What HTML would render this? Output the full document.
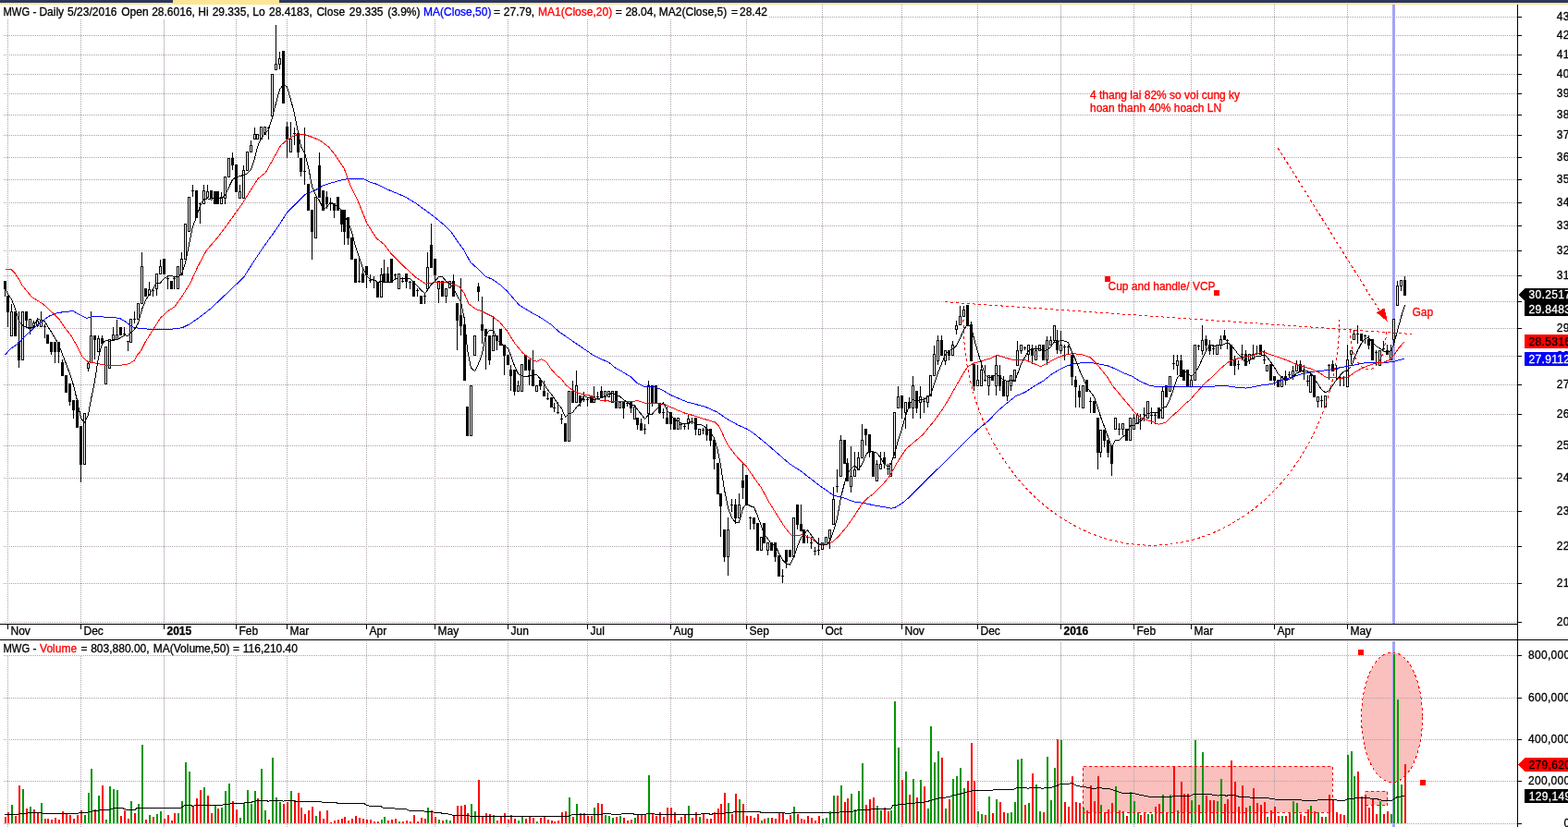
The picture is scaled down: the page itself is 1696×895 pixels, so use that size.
<!DOCTYPE html>
<html><head><meta charset="utf-8"><title>MWG - Daily</title>
<style>html,body{margin:0;padding:0;background:#fff;overflow:hidden;width:1696px;height:895px}svg{display:block}text{white-space:pre}</style>
</head><body>
<svg width="1696" height="895" viewBox="0 0 1696 895" shape-rendering="crispEdges"><rect x="0" y="0" width="1696" height="895" fill="#fff"/>
<rect x="0" y="0" width="1696" height="3" fill="#2d375e"/>
<rect x="187" y="0" width="115" height="3" fill="#fee596"/>
<rect x="0" y="3" width="1696" height="2" fill="#fee596"/>
<rect x="1171" y="829" width="270" height="50" fill="#f9c0bd"/>
<rect x="1476" y="856" width="25" height="15" fill="#f9c0bd"/>
<ellipse cx="1505.6" cy="776.3" rx="33" ry="70.3" fill="#f9c0bd"/>
<path d="M4 673.5H1641M4 631.5H1641M4 591.5H1641M4 553.5H1641M4 517.5H1641M4 482.5H1641M4 448.5H1641M4 416.5H1641M4 385.5H1641M4 355.5H1641M4 326.5H1641M4 298.5H1641M4 271.5H1641M4 244.5H1641M4 219.5H1641M4 194.5H1641M4 170.5H1641M4 146.5H1641M4 124.5H1641M4 101.5H1641M4 80.5H1641M4 59.5H1641M4 38.5H1641M4 18.5H1641M4 709.5H1641M4 755.5H1641M4 800.5H1641M4 845.5H1641M4 891.5H1641M8.5 5V674M8.5 694V895M87.5 5V674M87.5 694V895M255.5 5V674M255.5 694V895M310.5 5V674M310.5 694V895M396.5 5V674M396.5 694V895M470.5 5V674M470.5 694V895M549.5 5V674M549.5 694V895M635.5 5V674M635.5 694V895M725.5 5V674M725.5 694V895M807.5 5V674M807.5 694V895M889.5 5V674M889.5 694V895M975.5 5V674M975.5 694V895M1057.5 5V674M1057.5 694V895M1226.5 5V674M1226.5 694V895M1288.5 5V674M1288.5 694V895M1378.5 5V674M1378.5 694V895M1457.5 5V674M1457.5 694V895" stroke="#ada0ad" stroke-width="1" stroke-dasharray="1 1" fill="none"/>
<path d="M177.5 5V674M177.5 694V895M1147.5 5V674M1147.5 694V895" stroke="#cbc2cc" stroke-width="1" fill="none"/>
<rect x="1506" y="5" width="3" height="670" fill="#a3a3f5"/>
<rect x="1506" y="694" width="3" height="201" fill="#a3a3f5"/>
<rect x="0" y="5" width="831" height="16" fill="#fff"/>
<rect x="0" y="693" width="326" height="16" fill="#fff"/>
<path d="M5 304h1V321h-1zM8 320h1V354h-1zM12 329h1V364h-1zM16 337h1V364h-1zM20 337h1V398h-1zM24 337h1V390h-1zM28 337h1V354h-1zM32 345h1V362h-1zM36 347h1V356h-1zM40 346h1V354h-1zM44 337h1V354h-1zM48 351h1V366h-1zM51 362h1V372h-1zM55 370h1V384h-1zM59 370h1V393h-1zM63 370h1V393h-1zM67 389h1V407h-1zM71 406h1V425h-1zM75 415h1V439h-1zM79 433h1V453h-1zM83 433h1V463h-1zM87 461h1V522h-1zM91 447h1V503h-1zM95 392h1V402h-1zM98 337h1V393h-1zM102 363h1V389h-1zM106 363h1V381h-1zM110 363h1V372h-1zM114 375h1V416h-1zM118 367h1V399h-1zM122 354h1V368h-1zM126 346h1V368h-1zM130 354h1V363h-1zM134 354h1V364h-1zM138 369h1V380h-1zM141 345h1V371h-1zM145 337h1V350h-1zM149 328h1V346h-1zM153 273h1V329h-1zM157 312h1V321h-1zM161 305h1V320h-1zM165 313h1V321h-1zM169 296h1V320h-1zM173 281h1V297h-1zM177 280h1V297h-1zM181 298h1V313h-1zM185 304h1V313h-1zM188 299h1V313h-1zM192 288h1V313h-1zM196 273h1V298h-1zM200 242h1V281h-1zM204 213h1V251h-1zM208 200h1V213h-1zM212 206h1V236h-1zM216 219h1V242h-1zM220 200h1V221h-1zM224 200h1V214h-1zM228 206h1V215h-1zM232 207h1V221h-1zM235 207h1V221h-1zM239 208h1V221h-1zM243 191h1V221h-1zM247 171h1V192h-1zM251 165h1V184h-1zM255 178h1V208h-1zM259 200h1V215h-1zM263 179h1V215h-1zM267 164h1V185h-1zM271 152h1V165h-1zM275 138h1V151h-1zM278 145h1V151h-1zM282 137h1V151h-1zM286 137h1V146h-1zM290 137h1V151h-1zM294 80h1V126h-1zM298 27h1V76h-1zM302 56h1V75h-1zM306 55h1V112h-1zM310 132h1V171h-1zM314 132h1V165h-1zM318 138h1V157h-1zM322 144h1V171h-1zM325 171h1V191h-1zM329 138h1V200h-1zM333 199h1V228h-1zM337 227h1V281h-1zM341 213h1V258h-1zM345 165h1V214h-1zM349 206h1V228h-1zM353 207h1V226h-1zM357 214h1V228h-1zM361 220h1V236h-1zM365 213h1V228h-1zM369 227h1V251h-1zM372 227h1V265h-1zM376 235h1V265h-1zM380 257h1V281h-1zM384 280h1V306h-1zM388 280h1V306h-1zM392 290h1V306h-1zM396 288h1V312h-1zM400 297h1V306h-1zM404 299h1V312h-1zM408 305h1V322h-1zM412 290h1V322h-1zM415 281h1V305h-1zM419 289h1V305h-1zM423 280h1V305h-1zM427 296h1V303h-1zM431 296h1V313h-1zM435 300h1V306h-1zM439 296h1V312h-1zM443 304h1V313h-1zM447 304h1V321h-1zM451 312h1V321h-1zM455 320h1V329h-1zM459 318h1V329h-1zM462 273h1V313h-1zM466 242h1V290h-1zM470 280h1V305h-1zM474 304h1V328h-1zM478 304h1V321h-1zM482 312h1V328h-1zM486 304h1V312h-1zM490 297h1V321h-1zM494 328h1V379h-1zM498 301h1V363h-1zM502 351h1V412h-1zM505 440h1V472h-1zM509 417h1V472h-1zM513 363h1V385h-1zM517 306h1V326h-1zM521 321h1V372h-1zM525 356h1V400h-1zM529 363h1V395h-1zM533 342h1V380h-1zM537 363h1V379h-1zM541 356h1V374h-1zM545 373h1V406h-1zM549 384h1V395h-1zM552 395h1V423h-1zM556 400h1V428h-1zM560 412h1V424h-1zM564 394h1V424h-1zM568 384h1V401h-1zM572 389h1V417h-1zM576 379h1V418h-1zM580 417h1V424h-1zM584 411h1V422h-1zM588 412h1V429h-1zM592 425h1V433h-1zM596 430h1V441h-1zM599 436h1V446h-1zM603 435h1V448h-1zM607 448h1V459h-1zM611 458h1V478h-1zM615 423h1V478h-1zM619 412h1V436h-1zM623 401h1V436h-1zM627 428h1V440h-1zM631 424h1V435h-1zM635 430h1V440h-1zM639 428h1V436h-1zM642 418h1V436h-1zM646 424h1V431h-1zM650 418h1V430h-1zM654 423h1V435h-1zM658 423h1V430h-1zM662 423h1V436h-1zM666 423h1V442h-1zM670 435h1V442h-1zM674 434h1V453h-1zM678 434h1V440h-1zM682 434h1V447h-1zM686 440h1V454h-1zM689 452h1V465h-1zM693 453h1V466h-1zM697 459h1V470h-1zM701 412h1V459h-1zM705 417h1V440h-1zM709 417h1V436h-1zM713 436h1V448h-1zM717 442h1V453h-1zM721 440h1V459h-1zM725 446h1V465h-1zM729 452h1V465h-1zM733 452h1V465h-1zM736 457h1V465h-1zM740 459h1V465h-1zM744 448h1V465h-1zM748 452h1V459h-1zM752 452h1V471h-1zM756 464h1V471h-1zM760 463h1V470h-1zM764 459h1V477h-1zM768 464h1V483h-1zM772 476h1V508h-1zM776 501h1V535h-1zM779 534h1V581h-1zM783 573h1V608h-1zM787 560h1V623h-1zM791 540h1V554h-1zM795 540h1V567h-1zM799 534h1V561h-1zM803 502h1V540h-1zM807 514h1V547h-1zM811 559h1V573h-1zM815 560h1V573h-1zM819 566h1V596h-1zM823 581h1V596h-1zM826 566h1V588h-1zM830 587h1V601h-1zM834 587h1V596h-1zM838 587h1V608h-1zM842 601h1V624h-1zM846 616h1V631h-1zM850 595h1V615h-1zM854 595h1V603h-1zM858 560h1V603h-1zM862 546h1V573h-1zM866 546h1V575h-1zM869 573h1V588h-1zM873 579h1V588h-1zM877 581h1V594h-1zM881 592h1V601h-1zM885 582h1V601h-1zM889 587h1V595h-1zM893 581h1V590h-1zM897 573h1V594h-1zM901 527h1V568h-1zM905 508h1V533h-1zM909 471h1V516h-1zM913 476h1V502h-1zM916 496h1V521h-1zM920 483h1V533h-1zM924 489h1V516h-1zM928 489h1V509h-1zM932 459h1V496h-1zM936 464h1V482h-1zM940 470h1V495h-1zM944 489h1V516h-1zM948 498h1V521h-1zM952 489h1V508h-1zM956 489h1V507h-1zM960 502h1V514h-1zM963 501h1V516h-1zM967 446h1V496h-1zM971 418h1V442h-1zM975 428h1V453h-1zM979 435h1V464h-1zM983 430h1V442h-1zM987 407h1V453h-1zM991 423h1V447h-1zM995 418h1V453h-1zM999 430h1V447h-1zM1003 428h1V441h-1zM1006 406h1V429h-1zM1010 374h1V407h-1zM1014 363h1V395h-1zM1018 363h1V385h-1zM1022 379h1V395h-1zM1026 379h1V390h-1zM1030 369h1V385h-1zM1034 347h1V362h-1zM1038 331h1V352h-1zM1042 331h1V343h-1zM1046 330h1V353h-1zM1050 348h1V391h-1zM1053 394h1V423h-1zM1057 395h1V418h-1zM1061 391h1V418h-1zM1065 395h1V413h-1zM1069 406h1V428h-1zM1073 406h1V412h-1zM1077 384h1V428h-1zM1081 395h1V423h-1zM1085 407h1V429h-1zM1089 412h1V434h-1zM1093 406h1V423h-1zM1097 400h1V413h-1zM1100 369h1V396h-1zM1104 373h1V383h-1zM1108 375h1V379h-1zM1112 373h1V390h-1zM1116 373h1V394h-1zM1120 374h1V390h-1zM1124 373h1V380h-1zM1128 373h1V390h-1zM1132 364h1V395h-1zM1136 364h1V374h-1zM1140 352h1V369h-1zM1143 357h1V383h-1zM1147 358h1V383h-1zM1151 373h1V390h-1zM1155 373h1V384h-1zM1159 384h1V417h-1zM1163 407h1V441h-1zM1167 417h1V441h-1zM1171 417h1V442h-1zM1175 411h1V424h-1zM1179 430h1V447h-1zM1183 434h1V447h-1zM1187 452h1V508h-1zM1190 465h1V495h-1zM1194 465h1V484h-1zM1198 476h1V495h-1zM1202 483h1V515h-1zM1206 452h1V465h-1zM1210 458h1V471h-1zM1214 458h1V471h-1zM1218 464h1V477h-1zM1222 452h1V477h-1zM1226 448h1V465h-1zM1230 447h1V459h-1zM1233 448h1V465h-1zM1237 441h1V456h-1zM1241 434h1V453h-1zM1245 441h1V459h-1zM1249 447h1V459h-1zM1253 441h1V453h-1zM1257 418h1V453h-1zM1261 417h1V430h-1zM1265 407h1V424h-1zM1269 384h1V400h-1zM1273 384h1V406h-1zM1277 384h1V408h-1zM1280 400h1V412h-1zM1284 400h1V418h-1zM1288 406h1V419h-1zM1292 373h1V412h-1zM1296 373h1V379h-1zM1300 352h1V384h-1zM1304 363h1V379h-1zM1308 368h1V384h-1zM1312 373h1V384h-1zM1316 373h1V384h-1zM1320 363h1V378h-1zM1324 357h1V368h-1zM1327 367h1V378h-1zM1331 373h1V396h-1zM1335 385h1V406h-1zM1339 390h1V400h-1zM1343 373h1V390h-1zM1347 379h1V396h-1zM1351 383h1V394h-1zM1355 373h1V389h-1zM1359 374h1V384h-1zM1363 373h1V384h-1zM1367 379h1V394h-1zM1370 395h1V402h-1zM1374 394h1V412h-1zM1378 407h1V417h-1zM1382 411h1V419h-1zM1386 407h1V419h-1zM1390 401h1V417h-1zM1394 402h1V409h-1zM1398 396h1V411h-1zM1402 390h1V402h-1zM1406 390h1V402h-1zM1410 395h1V411h-1zM1414 406h1V418h-1zM1417 402h1V425h-1zM1421 406h1V430h-1zM1425 429h1V441h-1zM1429 428h1V441h-1zM1433 428h1V441h-1zM1437 394h1V411h-1zM1441 390h1V402h-1zM1445 395h1V411h-1zM1449 407h1V418h-1zM1453 407h1V418h-1zM1457 373h1V419h-1zM1461 379h1V394h-1zM1464 357h1V368h-1zM1468 352h1V372h-1zM1472 361h1V369h-1zM1476 362h1V372h-1zM1480 363h1V378h-1zM1484 367h1V390h-1zM1488 379h1V395h-1zM1492 379h1V396h-1zM1496 369h1V381h-1zM1500 373h1V384h-1zM1504 373h1V390h-1zM1507 345h1V373h-1zM1511 304h1V331h-1zM1515 303h1V315h-1zM1519 299h1V320h-1zM4 304h3v9h-3zM7 320h3v18h-3zM11 337h3v27h-3zM15 337h3v27h-3zM19 370h3v20h-3zM23 337h3v53h-3zM27 337h3v10h-3zM31 345h3v10h-3zM35 349h3v6h-3zM39 347h3v6h-3zM43 346h3v8h-3zM47 353h3v1h-3zM50 362h3v10h-3zM54 370h3v11h-3zM58 370h3v11h-3zM62 370h3v11h-3zM66 392h3v15h-3zM70 406h3v19h-3zM74 415h3v20h-3zM78 433h3v11h-3zM82 433h3v30h-3zM86 461h3v42h-3zM90 447h3v56h-3zM94 393h3v6h-3zM97 363h3v30h-3zM101 363h3v5h-3zM105 366h3v15h-3zM109 366h3v6h-3zM113 375h3v41h-3zM117 367h3v32h-3zM121 362h3v6h-3zM125 362h3v6h-3zM129 354h3v9h-3zM133 361h3v1h-3zM137 369h3v1h-3zM140 345h3v26h-3zM144 345h3v1h-3zM148 328h3v18h-3zM152 288h3v41h-3zM156 312h3v9h-3zM160 313h3v7h-3zM164 314h3v1h-3zM168 296h3v17h-3zM172 288h3v9h-3zM176 280h3v17h-3zM180 301h3v1h-3zM184 304h3v9h-3zM187 301h3v1h-3zM191 288h3v25h-3zM195 280h3v18h-3zM199 242h3v39h-3zM203 213h3v38h-3zM207 206h3v1h-3zM211 206h3v30h-3zM215 220h3v1h-3zM219 206h3v15h-3zM223 207h3v7h-3zM227 206h3v9h-3zM231 207h3v14h-3zM234 207h3v14h-3zM238 213h3v8h-3zM242 191h3v24h-3zM246 171h3v21h-3zM250 171h3v8h-3zM254 178h3v30h-3zM258 207h3v8h-3zM262 184h3v31h-3zM266 164h3v21h-3zM270 157h3v8h-3zM274 145h3v6h-3zM277 145h3v6h-3zM281 137h3v14h-3zM285 137h3v9h-3zM289 138h3v1h-3zM293 80h3v46h-3zM297 69h3v7h-3zM301 63h3v7h-3zM305 55h3v57h-3zM309 137h3v14h-3zM313 150h3v15h-3zM317 144h3v1h-3zM321 144h3v21h-3zM324 171h3v15h-3zM328 185h3v1h-3zM332 199h3v29h-3zM336 227h3v24h-3zM340 213h3v45h-3zM344 179h3v35h-3zM348 206h3v22h-3zM352 213h3v8h-3zM356 220h3v1h-3zM360 220h3v8h-3zM364 213h3v15h-3zM368 227h3v16h-3zM371 227h3v24h-3zM375 235h3v23h-3zM379 257h3v24h-3zM383 280h3v26h-3zM387 304h3v1h-3zM391 296h3v10h-3zM395 288h3v10h-3zM399 303h3v1h-3zM403 303h3v1h-3zM407 305h3v17h-3zM411 297h3v25h-3zM414 296h3v9h-3zM418 296h3v9h-3zM422 280h3v25h-3zM426 297h3v1h-3zM430 296h3v17h-3zM434 304h3v1h-3zM438 296h3v9h-3zM442 305h3v1h-3zM446 304h3v17h-3zM450 314h3v1h-3zM454 320h3v9h-3zM458 320h3v1h-3zM461 289h3v24h-3zM465 265h3v25h-3zM469 280h3v18h-3zM473 304h3v9h-3zM477 304h3v17h-3zM481 312h3v9h-3zM485 304h3v8h-3zM489 304h3v17h-3zM493 328h3v19h-3zM497 341h3v12h-3zM501 351h3v61h-3zM504 440h3v32h-3zM508 417h3v55h-3zM512 363h3v22h-3zM516 310h3v6h-3zM520 351h3v7h-3zM524 356h3v8h-3zM528 363h3v27h-3zM532 363h3v17h-3zM536 363h3v6h-3zM540 356h3v18h-3zM544 373h3v12h-3zM548 384h3v11h-3zM551 400h3v7h-3zM555 400h3v24h-3zM559 417h3v7h-3zM563 394h3v30h-3zM567 384h3v17h-3zM571 389h3v12h-3zM575 400h3v18h-3zM579 417h3v7h-3zM583 411h3v7h-3zM587 423h3v6h-3zM591 431h3v1h-3zM595 430h3v11h-3zM598 441h3v1h-3zM602 446h3v1h-3zM606 453h3v1h-3zM610 458h3v20h-3zM614 423h3v55h-3zM618 423h3v13h-3zM622 417h3v19h-3zM626 428h3v8h-3zM630 432h3v1h-3zM634 432h3v1h-3zM638 428h3v8h-3zM641 429h3v7h-3zM645 429h3v1h-3zM649 423h3v7h-3zM653 423h3v7h-3zM657 423h3v7h-3zM661 423h3v13h-3zM665 423h3v19h-3zM669 435h3v7h-3zM673 434h3v8h-3zM677 436h3v1h-3zM681 434h3v8h-3zM685 440h3v14h-3zM688 452h3v8h-3zM692 458h3v8h-3zM696 464h3v1h-3zM700 417h3v31h-3zM704 417h3v20h-3zM708 417h3v19h-3zM712 436h3v11h-3zM716 446h3v1h-3zM720 452h3v7h-3zM724 446h3v13h-3zM728 452h3v13h-3zM732 452h3v13h-3zM735 459h3v1h-3zM739 461h3v1h-3zM743 453h3v6h-3zM747 456h3v1h-3zM751 452h3v13h-3zM755 464h3v7h-3zM759 465h3v1h-3zM763 464h3v7h-3zM767 464h3v13h-3zM771 476h3v21h-3zM775 501h3v34h-3zM778 534h3v14h-3zM782 573h3v30h-3zM786 573h3v30h-3zM790 546h3v1h-3zM794 546h3v15h-3zM798 546h3v15h-3zM802 520h3v8h-3zM806 514h3v33h-3zM810 560h3v1h-3zM814 560h3v7h-3zM818 566h3v30h-3zM822 581h3v15h-3zM825 566h3v22h-3zM829 587h3v9h-3zM833 587h3v9h-3zM837 587h3v16h-3zM841 601h3v23h-3zM845 623h3v1h-3zM849 595h3v13h-3zM853 595h3v8h-3zM857 560h3v43h-3zM861 546h3v22h-3zM865 567h3v8h-3zM868 573h3v15h-3zM872 581h3v1h-3zM876 587h3v1h-3zM880 596h3v1h-3zM884 595h3v1h-3zM888 587h3v8h-3zM892 581h3v9h-3zM896 573h3v10h-3zM900 540h3v28h-3zM904 526h3v1h-3zM908 476h3v40h-3zM912 476h3v26h-3zM915 501h3v20h-3zM919 515h3v12h-3zM923 508h3v8h-3zM927 495h3v14h-3zM931 476h3v20h-3zM935 464h3v7h-3zM939 470h3v20h-3zM943 489h3v27h-3zM947 502h3v19h-3zM951 502h3v6h-3zM955 495h3v7h-3zM959 507h3v1h-3zM962 501h3v15h-3zM966 446h3v50h-3zM970 429h3v13h-3zM974 428h3v14h-3zM978 435h3v12h-3zM982 435h3v7h-3zM986 417h3v25h-3zM990 423h3v19h-3zM994 429h3v7h-3zM998 434h3v1h-3zM1002 428h3v8h-3zM1005 406h3v23h-3zM1009 383h3v24h-3zM1013 368h3v23h-3zM1017 368h3v17h-3zM1021 379h3v12h-3zM1025 379h3v6h-3zM1029 373h3v12h-3zM1033 352h3v5h-3zM1037 342h3v10h-3zM1041 335h3v8h-3zM1045 330h3v23h-3zM1049 351h3v40h-3zM1052 394h3v24h-3zM1056 411h3v7h-3zM1060 400h3v18h-3zM1064 411h3v1h-3zM1068 406h3v12h-3zM1072 406h3v6h-3zM1076 395h3v23h-3zM1080 406h3v12h-3zM1084 412h3v17h-3zM1088 412h3v17h-3zM1092 406h3v12h-3zM1096 400h3v13h-3zM1099 379h3v17h-3zM1103 373h3v7h-3zM1107 376h3v1h-3zM1111 373h3v11h-3zM1115 378h3v7h-3zM1119 379h3v11h-3zM1123 373h3v7h-3zM1127 373h3v17h-3zM1131 368h3v22h-3zM1135 368h3v6h-3zM1139 352h3v17h-3zM1142 368h3v11h-3zM1146 373h3v7h-3zM1150 375h3v1h-3zM1154 375h3v1h-3zM1158 384h3v24h-3zM1162 411h3v8h-3zM1166 423h3v7h-3zM1170 417h3v25h-3zM1174 411h3v13h-3zM1178 434h3v1h-3zM1182 434h3v13h-3zM1186 452h3v38h-3zM1189 465h3v25h-3zM1193 465h3v12h-3zM1197 476h3v14h-3zM1201 483h3v19h-3zM1205 452h3v13h-3zM1209 464h3v1h-3zM1213 458h3v7h-3zM1217 464h3v13h-3zM1221 452h3v25h-3zM1225 452h3v13h-3zM1229 449h3v10h-3zM1232 454h3v1h-3zM1236 448h3v1h-3zM1240 434h3v19h-3zM1244 449h3v1h-3zM1248 449h3v1h-3zM1252 441h3v12h-3zM1256 423h3v30h-3zM1260 417h3v13h-3zM1264 407h3v17h-3zM1268 393h3v1h-3zM1272 390h3v6h-3zM1276 390h3v18h-3zM1279 400h3v12h-3zM1283 400h3v18h-3zM1287 411h3v8h-3zM1291 373h3v39h-3zM1295 374h3v1h-3zM1299 368h3v12h-3zM1303 367h3v7h-3zM1307 373h3v7h-3zM1311 377h3v1h-3zM1315 373h3v11h-3zM1319 367h3v7h-3zM1323 363h3v5h-3zM1326 368h3v1h-3zM1330 373h3v23h-3zM1334 389h3v7h-3zM1338 394h3v1h-3zM1342 383h3v1h-3zM1346 383h3v13h-3zM1350 383h3v7h-3zM1354 383h3v6h-3zM1358 382h3v1h-3zM1362 373h3v11h-3zM1366 389h3v1h-3zM1369 395h3v7h-3zM1373 394h3v18h-3zM1377 407h3v5h-3zM1381 411h3v8h-3zM1385 407h3v12h-3zM1389 407h3v5h-3zM1393 405h3v1h-3zM1397 401h3v6h-3zM1401 394h3v8h-3zM1405 394h3v8h-3zM1409 402h3v1h-3zM1413 412h3v1h-3zM1416 406h3v19h-3zM1420 406h3v24h-3zM1424 429h3v6h-3zM1428 433h3v1h-3zM1432 428h3v13h-3zM1436 395h3v1h-3zM1440 394h3v8h-3zM1444 399h3v1h-3zM1448 408h3v1h-3zM1452 408h3v1h-3zM1456 389h3v30h-3zM1460 379h3v5h-3zM1463 361h3v7h-3zM1467 361h3v1h-3zM1471 361h3v8h-3zM1475 363h3v1h-3zM1479 367h3v7h-3zM1483 367h3v23h-3zM1487 381h3v1h-3zM1491 379h3v17h-3zM1495 377h3v1h-3zM1499 379h3v5h-3zM1503 379h3v11h-3zM1506 345h3v23h-3zM1510 309h3v22h-3zM1514 303h3v7h-3zM1518 303h3v17h-3z" fill="#000"/>
<path d="M12 338h1v25h-1zM24 338h1v51h-1zM32 346h1v8h-1zM36 350h1v4h-1zM40 348h1v4h-1zM44 347h1v6h-1zM91 448h1v54h-1zM95 394h1v4h-1zM98 364h1v28h-1zM106 367h1v13h-1zM114 376h1v39h-1zM118 368h1v30h-1zM122 363h1v4h-1zM126 363h1v4h-1zM141 346h1v24h-1zM149 329h1v16h-1zM153 289h1v39h-1zM161 314h1v5h-1zM169 297h1v15h-1zM173 289h1v7h-1zM192 289h1v23h-1zM196 281h1v16h-1zM200 243h1v37h-1zM204 214h1v36h-1zM220 207h1v13h-1zM224 208h1v5h-1zM239 214h1v6h-1zM243 192h1v22h-1zM247 172h1v19h-1zM259 208h1v6h-1zM263 185h1v29h-1zM267 165h1v19h-1zM271 158h1v6h-1zM275 146h1v4h-1zM278 146h1v4h-1zM282 138h1v12h-1zM286 138h1v7h-1zM294 81h1v44h-1zM298 70h1v5h-1zM302 64h1v5h-1zM314 151h1v13h-1zM341 214h1v43h-1zM412 298h1v23h-1zM431 297h1v15h-1zM462 290h1v22h-1zM474 305h1v7h-1zM482 313h1v7h-1zM486 305h1v6h-1zM509 418h1v53h-1zM513 364h1v20h-1zM533 364h1v15h-1zM560 418h1v5h-1zM564 395h1v28h-1zM580 418h1v5h-1zM615 424h1v53h-1zM623 418h1v17h-1zM642 430h1v5h-1zM654 424h1v5h-1zM658 424h1v5h-1zM662 424h1v11h-1zM670 436h1v5h-1zM686 441h1v12h-1zM701 418h1v29h-1zM733 453h1v11h-1zM744 454h1v4h-1zM756 465h1v5h-1zM787 574h1v28h-1zM799 547h1v13h-1zM823 582h1v13h-1zM830 588h1v7h-1zM858 561h1v41h-1zM889 588h1v6h-1zM893 582h1v7h-1zM897 574h1v8h-1zM901 541h1v26h-1zM909 477h1v38h-1zM920 516h1v10h-1zM924 509h1v6h-1zM928 496h1v12h-1zM932 477h1v18h-1zM948 503h1v17h-1zM952 503h1v4h-1zM963 502h1v13h-1zM967 447h1v48h-1zM971 430h1v11h-1zM979 436h1v10h-1zM987 418h1v23h-1zM995 430h1v5h-1zM1003 429h1v6h-1zM1006 407h1v21h-1zM1010 384h1v22h-1zM1014 369h1v21h-1zM1022 380h1v10h-1zM1030 374h1v10h-1zM1034 353h1v3h-1zM1038 343h1v8h-1zM1042 336h1v6h-1zM1057 412h1v5h-1zM1061 401h1v16h-1zM1069 407h1v10h-1zM1077 396h1v21h-1zM1089 413h1v15h-1zM1093 407h1v10h-1zM1097 401h1v11h-1zM1100 380h1v15h-1zM1104 374h1v5h-1zM1112 374h1v9h-1zM1120 380h1v9h-1zM1124 374h1v5h-1zM1132 369h1v20h-1zM1136 369h1v4h-1zM1140 353h1v15h-1zM1147 374h1v5h-1zM1171 418h1v23h-1zM1190 466h1v23h-1zM1206 453h1v11h-1zM1214 459h1v5h-1zM1222 453h1v23h-1zM1226 453h1v11h-1zM1230 450h1v8h-1zM1241 435h1v17h-1zM1257 424h1v28h-1zM1265 408h1v15h-1zM1273 391h1v4h-1zM1288 412h1v6h-1zM1292 374h1v37h-1zM1300 369h1v10h-1zM1316 374h1v9h-1zM1320 368h1v5h-1zM1351 384h1v5h-1zM1355 384h1v4h-1zM1370 396h1v5h-1zM1386 408h1v10h-1zM1398 402h1v4h-1zM1402 395h1v6h-1zM1417 407h1v17h-1zM1425 430h1v4h-1zM1433 429h1v11h-1zM1457 390h1v28h-1zM1461 380h1v3h-1zM1464 362h1v5h-1zM1492 380h1v15h-1zM1504 380h1v9h-1zM1507 346h1v21h-1zM1511 310h1v20h-1zM1515 304h1v5h-1z" fill="#fff"/>
<path d="M5.4 384.2 L10.7 378.1 L20.1 371.4 L26.8 364.1 L34.9 356.7 L44.2 348.6 L53.6 341.9 L61.7 338.6 L69.7 337.6 L79.1 336.6 L85.8 340.6 L93.9 344.3 L99.2 342.8 L107.3 342.2 L114.0 343.3 L120.1 343.0 L130.1 344.7 L136.8 348.9 L143.5 353.9 L151.9 355.6 L165.3 356.4 L177.0 356.4 L190.4 355.9 L197.1 354.7 L205.5 350.6 L213.9 344.7 L224.0 337.1 L230.0 332.1 L263.7 300.0 L273.8 284.1 L283.8 269.0 L292.2 257.3 L300.6 245.5 L310.1 230.6 L320.1 220.5 L330.2 210.5 L341.9 205.4 L350.3 200.4 L358.7 197.9 L367.0 195.4 L375.4 193.7 L383.8 193.7 L393.8 194.0 L400.6 197.1 L408.9 199.8 L417.1 204.2 L427.2 208.4 L437.3 212.6 L450.0 220.1 L470.2 235.0 L480.2 243.4 L488.6 251.8 L495.3 261.8 L502.0 271.0 L508.7 283.6 L515.4 289.5 L525.5 299.5 L532.2 302.0 L540.6 307.9 L548.9 315.4 L561.3 330.0 L572.1 336.7 L585.6 344.2 L595.6 350.9 L605.0 359.3 L635.2 380.0 L641.9 384.5 L650.9 388.9 L658.7 392.3 L665.4 397.9 L673.2 402.3 L682.2 407.9 L688.9 414.6 L695.6 418.0 L700.0 418.0 L706.7 418.5 L715.0 421.3 L725.1 427.4 L742.5 434.8 L762.7 440.2 L776.1 446.2 L785.5 452.9 L798.9 460.3 L808.2 464.3 L816.3 469.7 L828.7 480.0 L840.4 490.1 L853.8 501.8 L865.5 509.3 L876.8 517.9 L885.1 524.6 L893.5 530.4 L901.9 536.3 L910.3 538.0 L923.7 543.0 L935.4 544.7 L947.1 547.2 L957.2 548.9 L963.9 550.2 L968.9 548.9 L975.6 544.7 L980.0 541.3 L1052.2 470.0 L1060.6 462.4 L1068.9 455.7 L1080.1 443.9 L1090.1 435.5 L1098.5 428.8 L1108.5 424.6 L1118.6 417.9 L1128.7 412.1 L1137.0 405.4 L1145.4 400.3 L1153.8 396.1 L1162.2 393.6 L1170.6 392.8 L1178.9 392.3 L1188.9 394.0 L1197.9 395.8 L1206.8 399.3 L1215.8 403.8 L1224.7 407.4 L1233.6 412.8 L1242.6 416.9 L1251.5 418.7 L1260.5 418.7 L1269.4 419.0 L1278.4 418.3 L1287.3 418.3 L1298.4 418.1 L1311.8 418.1 L1325.2 417.5 L1331.9 418.4 L1338.6 419.5 L1348.0 420.1 L1354.7 418.8 L1365.4 416.8 L1376.2 415.5 L1384.2 412.1 L1392.3 409.4 L1408.4 404.7 L1421.8 402.0 L1435.2 400.7 L1448.6 398.0 L1459.4 396.0 L1470.1 394.0 L1480.8 392.0 L1491.5 392.0 L1502.3 392.0 L1507.6 391.3 L1515.0 389.3 L1518.6 388.5" stroke="#0000ff" stroke-width="1" fill="none" stroke-linejoin="round"/>
<path d="M5.5 291.3 L11.7 291.3 L15.6 294.9 L20.3 301.9 L23.5 308.2 L34.4 321.5 L40.7 325.4 L46.9 329.3 L57.9 339.5 L64.2 345.7 L70.4 355.1 L76.7 362.9 L82.9 373.9 L89.2 386.4 L95.2 391.7 L105.3 393.4 L117.0 395.9 L126.8 395.8 L137.1 394.2 L140.2 393.3 L145.5 390.0 L148.5 384.1 L152.2 380.0 L156.9 370.7 L165.3 357.3 L173.7 343.8 L182.1 336.3 L188.8 332.1 L197.1 320.4 L205.5 307.0 L213.9 288.5 L223.5 270.7 L235.2 257.3 L245.3 243.8 L253.7 232.1 L262.1 220.4 L270.4 207.0 L278.8 193.6 L287.2 186.9 L295.6 171.8 L303.6 157.4 L310.3 151.6 L317.0 147.4 L322.0 145.4 L328.7 145.4 L337.1 148.2 L345.5 151.6 L355.6 159.1 L362.3 167.5 L372.1 182.0 L378.8 200.4 L387.1 217.2 L397.0 241.9 L407.1 257.8 L415.5 264.5 L423.8 275.4 L437.3 288.8 L450.1 300.4 L460.1 307.1 L473.5 305.4 L486.9 306.2 L497.0 310.4 L502.0 317.1 L507.0 328.8 L513.7 333.9 L523.8 338.1 L532.2 342.3 L540.3 348.4 L548.7 358.5 L557.1 371.9 L565.4 382.0 L575.5 389.5 L580.5 391.2 L585.6 388.7 L590.6 391.2 L595.6 398.7 L601.7 405.7 L607.3 410.2 L611.8 416.3 L618.5 421.9 L624.0 424.7 L630.8 426.9 L637.5 428.0 L644.2 431.4 L650.9 433.6 L662.0 434.2 L673.2 434.7 L682.2 434.7 L690.0 433.6 L697.8 436.4 L706.7 436.4 L718.4 437.5 L729.1 442.2 L741.2 447.3 L751.9 450.2 L764.0 454.2 L773.4 456.9 L777.4 461.0 L781.4 469.0 L785.5 478.4 L790.8 486.4 L798.7 496.3 L806.9 504.2 L815.8 517.2 L823.4 527.8 L832.0 543.7 L840.4 557.1 L848.8 570.5 L855.5 578.9 L862.2 579.7 L868.7 578.5 L876.8 582.4 L885.1 588.2 L893.5 589.1 L900.2 586.6 L906.9 580.7 L915.3 570.7 L923.7 558.9 L932.1 545.5 L938.8 538.8 L945.5 533.8 L953.8 525.4 L962.2 515.4 L970.6 500.3 L980.0 486.0 L998.5 470.0 L1010.3 455.7 L1018.7 444.0 L1027.0 430.6 L1035.4 415.5 L1042.1 403.8 L1047.1 396.3 L1053.8 392.9 L1062.2 390.4 L1070.3 388.2 L1078.4 384.4 L1086.8 386.9 L1096.8 389.9 L1108.5 389.4 L1116.9 392.8 L1125.3 396.6 L1132.0 393.6 L1140.4 388.6 L1148.8 385.2 L1155.5 383.2 L1162.2 382.7 L1170.6 383.9 L1178.9 386.6 L1185.4 393.1 L1190.7 399.3 L1197.9 408.3 L1203.2 417.2 L1212.2 428.0 L1221.1 438.7 L1228.3 447.6 L1235.4 453.0 L1244.4 455.7 L1253.3 459.2 L1260.5 457.5 L1265.8 452.1 L1273.0 445.8 L1281.9 436.9 L1287.0 433.0 L1293.0 426.2 L1302.4 415.5 L1311.8 407.4 L1321.2 398.0 L1329.2 391.3 L1338.6 388.0 L1349.4 386.0 L1358.7 383.3 L1365.4 380.6 L1378.9 385.3 L1392.3 390.0 L1403.0 394.7 L1411.1 397.3 L1419.1 399.4 L1427.2 403.4 L1433.9 408.1 L1441.9 408.7 L1451.3 409.4 L1458.0 408.1 L1464.7 403.4 L1472.8 398.7 L1480.8 395.3 L1488.9 392.7 L1496.9 392.0 L1502.3 390.0 L1507.6 384.6 L1513.0 376.6 L1518.6 370.5" stroke="#ff0000" stroke-width="1" fill="none" stroke-linejoin="round"/>
<path d="M5.5 312.0 L8.5 318.0 L12.5 324.0 L16.5 334.0 L20.5 347.2 L24.5 352.3 L28.5 354.2 L32.5 355.8 L36.5 353.0 L40.5 344.8 L44.5 346.6 L48.5 348.0 L51.5 353.2 L55.5 359.3 L59.5 365.9 L63.5 372.7 L67.5 383.3 L71.5 393.8 L75.5 404.5 L79.5 417.1 L83.5 433.6 L87.5 452.6 L91.5 457.3 L95.5 448.7 L98.5 432.0 L102.5 412.8 L106.5 386.6 L110.5 371.9 L114.5 368.4 L118.5 369.2 L122.5 368.2 L126.5 367.4 L130.5 365.6 L134.5 362.8 L138.5 363.3 L141.5 359.9 L145.5 356.5 L149.5 349.7 L153.5 334.8 L157.5 325.0 L161.5 318.7 L165.5 312.5 L169.5 306.1 L173.5 306.1 L177.5 301.3 L181.5 299.0 L185.5 298.6 L188.5 299.6 L192.5 299.6 L196.5 296.3 L200.5 284.3 L204.5 264.2 L208.5 245.1 L212.5 234.8 L216.5 223.1 L220.5 215.9 L224.5 214.7 L228.5 216.3 L232.5 213.4 L235.5 213.4 L239.5 214.8 L243.5 211.5 L247.5 202.8 L251.5 194.4 L255.5 191.8 L259.5 190.7 L263.5 189.3 L267.5 187.8 L271.5 183.5 L275.5 171.1 L278.5 158.9 L282.5 149.5 L286.5 144.2 L290.5 140.4 L294.5 127.1 L298.5 111.6 L302.5 96.8 L306.5 91.7 L310.5 94.0 L314.5 107.8 L318.5 122.9 L322.5 143.6 L325.5 158.5 L329.5 165.4 L333.5 180.6 L337.5 201.6 L341.5 211.6 L345.5 217.3 L349.5 225.9 L353.5 224.5 L357.5 218.6 L361.5 221.4 L365.5 224.2 L369.5 227.2 L372.5 233.1 L376.5 240.5 L380.5 251.0 L384.5 266.5 L388.5 278.9 L392.5 290.0 L396.5 298.1 L400.5 302.8 L404.5 302.4 L408.5 305.8 L412.5 304.2 L415.5 305.6 L419.5 305.8 L423.5 306.0 L427.5 301.2 L431.5 301.0 L435.5 301.0 L439.5 301.0 L443.5 301.2 L447.5 305.8 L451.5 309.4 L455.5 314.2 L459.5 317.4 L462.5 314.1 L466.5 307.8 L470.5 304.4 L474.5 299.7 L478.5 299.7 L482.5 304.3 L486.5 307.4 L490.5 312.0 L494.5 320.3 L498.5 326.6 L502.5 345.8 L505.5 378.3 L509.5 398.2 L513.5 401.7 L517.5 393.8 L521.5 382.9 L525.5 362.4 L529.5 357.1 L533.5 357.1 L537.5 367.9 L541.5 371.1 L545.5 375.3 L549.5 376.3 L552.5 384.9 L556.5 395.8 L560.5 404.7 L564.5 406.7 L568.5 407.9 L572.5 406.7 L576.5 405.5 L580.5 405.5 L584.5 410.2 L588.5 415.8 L592.5 422.0 L596.5 426.6 L599.5 431.4 L603.5 437.2 L607.5 442.2 L611.5 451.3 L615.5 447.8 L619.5 446.6 L623.5 440.7 L627.5 437.1 L631.5 428.4 L635.5 430.2 L639.5 430.2 L642.5 432.6 L646.5 431.4 L650.5 430.8 L654.5 429.0 L658.5 426.6 L662.5 425.4 L666.5 427.8 L670.5 429.0 L674.5 432.6 L678.5 435.2 L682.5 438.8 L686.5 438.6 L689.5 443.4 L693.5 448.1 L697.5 453.7 L701.5 448.8 L705.5 448.0 L709.5 443.2 L713.5 439.5 L717.5 435.9 L721.5 444.2 L725.5 448.6 L729.5 454.4 L733.5 455.6 L736.5 458.2 L740.5 458.8 L744.5 457.8 L748.5 456.2 L752.5 458.6 L756.5 459.6 L760.5 460.4 L764.5 463.8 L768.5 467.8 L772.5 474.1 L776.5 487.8 L779.5 504.0 L783.5 529.9 L787.5 549.6 L791.5 560.1 L795.5 565.4 L799.5 565.1 L803.5 550.3 L807.5 544.9 L811.5 547.7 L815.5 548.9 L819.5 558.5 L823.5 569.4 L826.5 577.7 L830.5 583.1 L834.5 589.0 L838.5 590.4 L842.5 598.7 L846.5 605.9 L850.5 609.9 L854.5 611.3 L858.5 602.7 L862.5 591.5 L866.5 581.8 L869.5 577.9 L873.5 573.7 L877.5 579.2 L881.5 585.0 L885.5 589.2 L889.5 589.2 L893.5 589.2 L897.5 586.4 L901.5 575.0 L905.5 561.1 L909.5 538.4 L913.5 522.6 L916.5 512.3 L920.5 507.4 L924.5 503.9 L928.5 507.8 L932.5 502.7 L936.5 492.6 L940.5 487.5 L944.5 488.9 L948.5 490.2 L952.5 495.5 L956.5 501.8 L960.5 505.4 L963.5 502.6 L967.5 491.1 L971.5 476.2 L975.5 464.2 L979.5 450.0 L983.5 438.4 L987.5 432.6 L991.5 434.9 L995.5 432.6 L999.5 432.4 L1003.5 429.8 L1006.5 427.5 L1010.5 415.8 L1014.5 403.4 L1018.5 393.5 L1022.5 383.9 L1026.5 379.6 L1030.5 377.6 L1034.5 374.3 L1038.5 365.8 L1042.5 357.0 L1046.5 350.7 L1050.5 354.0 L1053.5 366.6 L1057.5 380.4 L1061.5 393.7 L1065.5 405.7 L1069.5 409.0 L1073.5 407.8 L1077.5 404.6 L1081.5 408.0 L1085.5 411.3 L1089.5 412.5 L1093.5 411.5 L1097.5 412.5 L1100.5 404.9 L1104.5 393.9 L1108.5 386.7 L1112.5 380.1 L1116.5 377.0 L1120.5 377.0 L1124.5 377.0 L1128.5 379.6 L1132.5 378.6 L1136.5 375.4 L1140.5 369.9 L1143.5 370.9 L1147.5 367.8 L1151.5 369.2 L1155.5 370.5 L1159.5 381.5 L1163.5 389.4 L1167.5 400.5 L1171.5 409.0 L1175.5 418.8 L1179.5 424.2 L1183.5 429.7 L1187.5 441.4 L1190.5 451.1 L1194.5 461.8 L1198.5 472.8 L1202.5 483.9 L1206.5 476.4 L1210.5 476.2 L1214.5 472.6 L1218.5 470.0 L1222.5 460.4 L1226.5 460.4 L1230.5 457.3 L1233.5 456.5 L1237.5 451.0 L1241.5 447.4 L1245.5 446.8 L1249.5 446.8 L1253.5 446.4 L1257.5 441.3 L1261.5 440.3 L1265.5 431.8 L1269.5 420.6 L1273.5 408.3 L1277.5 405.1 L1280.5 401.6 L1284.5 403.5 L1288.5 407.2 L1292.5 403.7 L1296.5 397.0 L1300.5 388.3 L1304.5 379.7 L1308.5 373.4 L1312.5 374.2 L1316.5 374.0 L1320.5 373.8 L1324.5 372.6 L1327.5 370.4 L1331.5 373.9 L1335.5 378.3 L1339.5 383.7 L1343.5 386.9 L1347.5 392.4 L1351.5 390.0 L1355.5 387.6 L1359.5 385.2 L1363.5 385.2 L1367.5 384.0 L1370.5 386.4 L1374.5 391.9 L1378.5 397.7 L1382.5 404.7 L1386.5 408.4 L1390.5 411.6 L1394.5 410.4 L1398.5 408.4 L1402.5 403.6 L1406.5 402.4 L1410.5 400.6 L1414.5 402.0 L1417.5 403.0 L1421.5 409.9 L1425.5 415.5 L1429.5 421.7 L1433.5 424.9 L1437.5 422.7 L1441.5 417.1 L1445.5 411.1 L1449.5 406.1 L1453.5 402.2 L1457.5 401.0 L1461.5 396.5 L1464.5 388.8 L1468.5 379.4 L1472.5 371.5 L1476.5 366.4 L1480.5 365.2 L1484.5 370.7 L1488.5 374.7 L1492.5 377.0 L1496.5 379.8 L1500.5 381.8 L1504.5 379.8 L1507.5 372.5 L1511.5 358.1 L1515.5 343.1 L1519.5 330.5" stroke="#000" stroke-width="1" fill="none" stroke-linejoin="round"/>
<path d="M5 884h2V891h-2zM8 879h2V891h-2zM16 883h2V891h-2zM20 850h2V891h-2zM28 875h2V891h-2zM36 876h2V891h-2zM40 880h2V891h-2zM48 886h2V891h-2zM51 886h2V891h-2zM55 887h2V891h-2zM59 885h2V891h-2zM63 887h2V891h-2zM67 878h2V891h-2zM71 880h2V891h-2zM75 882h2V891h-2zM79 886h2V891h-2zM83 882h2V891h-2zM87 877h2V891h-2zM102 876h2V891h-2zM110 850h2V891h-2zM130 883h2V891h-2zM134 877h2V891h-2zM138 886h2V891h-2zM145 880h2V891h-2zM157 887h2V891h-2zM165 884h2V891h-2zM177 886h2V891h-2zM181 882h2V891h-2zM185 888h2V891h-2zM188 880h2V891h-2zM208 873h2V891h-2zM212 864h2V891h-2zM216 855h2V891h-2zM224 861h2V891h-2zM228 880h2V891h-2zM235 875h2V891h-2zM251 867h2V891h-2zM255 876h2V891h-2zM278 864h2V891h-2zM290 887h2V891h-2zM306 870h2V891h-2zM310 868h2V891h-2zM318 866h2V891h-2zM322 858h2V891h-2zM325 874h2V891h-2zM329 881h2V891h-2zM333 877h2V891h-2zM337 873h2V891h-2zM345 878h2V891h-2zM349 886h2V891h-2zM353 877h2V891h-2zM357 890h2V891h-2zM361 888h2V891h-2zM365 887h2V891h-2zM369 886h2V891h-2zM372 884h2V891h-2zM376 888h2V891h-2zM380 886h2V891h-2zM384 883h2V891h-2zM388 885h2V891h-2zM392 886h2V891h-2zM396 887h2V891h-2zM400 887h2V891h-2zM404 889h2V891h-2zM408 889h2V891h-2zM419 888h2V891h-2zM423 887h2V891h-2zM427 886h2V891h-2zM435 889h2V891h-2zM439 888h2V891h-2zM443 889h2V891h-2zM447 882h2V891h-2zM451 889h2V891h-2zM455 885h2V891h-2zM459 886h2V891h-2zM466 877h2V891h-2zM470 884h2V891h-2zM478 888h2V891h-2zM490 883h2V891h-2zM494 872h2V891h-2zM498 872h2V891h-2zM502 871h2V891h-2zM505 880h2V891h-2zM517 844h2V891h-2zM521 883h2V891h-2zM525 880h2V891h-2zM529 881h2V891h-2zM537 888h2V891h-2zM541 883h2V891h-2zM545 880h2V891h-2zM549 887h2V891h-2zM552 882h2V891h-2zM556 886h2V891h-2zM568 886h2V891h-2zM572 883h2V891h-2zM576 885h2V891h-2zM584 885h2V891h-2zM588 883h2V891h-2zM592 887h2V891h-2zM596 888h2V891h-2zM599 889h2V891h-2zM603 888h2V891h-2zM607 879h2V891h-2zM611 878h2V891h-2zM619 884h2V891h-2zM627 880h2V891h-2zM631 880h2V891h-2zM635 883h2V891h-2zM639 883h2V891h-2zM646 869h2V891h-2zM650 870h2V891h-2zM666 884h2V891h-2zM674 885h2V891h-2zM678 888h2V891h-2zM682 887h2V891h-2zM689 881h2V891h-2zM693 881h2V891h-2zM697 881h2V891h-2zM705 881h2V891h-2zM709 883h2V891h-2zM713 879h2V891h-2zM717 884h2V891h-2zM721 874h2V891h-2zM725 874h2V891h-2zM729 879h2V891h-2zM736 884h2V891h-2zM740 882h2V891h-2zM748 885h2V891h-2zM752 879h2V891h-2zM760 881h2V891h-2zM764 886h2V891h-2zM768 886h2V891h-2zM772 879h2V891h-2zM776 875h2V891h-2zM779 870h2V891h-2zM783 858h2V891h-2zM791 881h2V891h-2zM795 859h2V891h-2zM803 870h2V891h-2zM807 883h2V891h-2zM811 883h2V891h-2zM815 885h2V891h-2zM819 881h2V891h-2zM826 886h2V891h-2zM834 885h2V891h-2zM838 886h2V891h-2zM842 879h2V891h-2zM846 880h2V891h-2zM850 887h2V891h-2zM854 882h2V891h-2zM862 881h2V891h-2zM866 886h2V891h-2zM869 887h2V891h-2zM873 883h2V891h-2zM877 885h2V891h-2zM881 888h2V891h-2zM885 883h2V891h-2zM905 861h2V891h-2zM913 868h2V891h-2zM916 864h2V891h-2zM936 871h2V891h-2zM940 865h2V891h-2zM944 863h2V891h-2zM956 874h2V891h-2zM960 878h2V891h-2zM975 844h2V891h-2zM983 860h2V891h-2zM991 863h2V891h-2zM999 851h2V891h-2zM1018 820h2V891h-2zM1026 865h2V891h-2zM1046 845h2V891h-2zM1050 804h2V891h-2zM1053 845h2V891h-2zM1065 882h2V891h-2zM1073 880h2V891h-2zM1081 868h2V891h-2zM1085 879h2V891h-2zM1108 871h2V891h-2zM1116 837h2V891h-2zM1128 879h2V891h-2zM1143 800h2V891h-2zM1151 868h2V891h-2zM1155 873h2V891h-2zM1159 840h2V891h-2zM1163 868h2V891h-2zM1167 869h2V891h-2zM1175 877h2V891h-2zM1179 850h2V891h-2zM1183 867h2V891h-2zM1187 840h2V891h-2zM1194 879h2V891h-2zM1198 876h2V891h-2zM1202 869h2V891h-2zM1210 877h2V891h-2zM1218 883h2V891h-2zM1233 882h2V891h-2zM1237 879h2V891h-2zM1249 873h2V891h-2zM1253 870h2V891h-2zM1261 879h2V891h-2zM1269 830h2V891h-2zM1277 846h2V891h-2zM1280 859h2V891h-2zM1284 859h2V891h-2zM1296 871h2V891h-2zM1304 861h2V891h-2zM1308 866h2V891h-2zM1312 866h2V891h-2zM1324 870h2V891h-2zM1327 865h2V891h-2zM1331 823h2V891h-2zM1335 846h2V891h-2zM1339 873h2V891h-2zM1343 850h2V891h-2zM1347 874h2V891h-2zM1355 853h2V891h-2zM1359 869h2V891h-2zM1363 871h2V891h-2zM1367 868h2V891h-2zM1374 877h2V891h-2zM1378 873h2V891h-2zM1382 883h2V891h-2zM1390 883h2V891h-2zM1394 879h2V891h-2zM1406 881h2V891h-2zM1410 883h2V891h-2zM1414 876h2V891h-2zM1421 878h2V891h-2zM1429 884h2V891h-2zM1437 860h2V891h-2zM1441 866h2V891h-2zM1445 879h2V891h-2zM1449 881h2V891h-2zM1453 882h2V891h-2zM1468 835h2V891h-2zM1472 862h2V891h-2zM1476 860h2V891h-2zM1480 874h2V891h-2zM1484 865h2V891h-2zM1488 881h2V891h-2zM1496 881h2V891h-2zM1500 878h2V891h-2zM1519 827h2V891h-2z" fill="#ff0000"/>
<path d="M12 871h2V891h-2zM24 854h2V891h-2zM32 873h2V891h-2zM44 869h2V891h-2zM91 882h2V891h-2zM95 858h2V891h-2zM98 832h2V891h-2zM106 861h2V891h-2zM114 887h2V891h-2zM118 851h2V891h-2zM122 854h2V891h-2zM126 855h2V891h-2zM141 867h2V891h-2zM149 870h2V891h-2zM153 806h2V891h-2zM161 882h2V891h-2zM169 881h2V891h-2zM173 878h2V891h-2zM192 880h2V891h-2zM196 867h2V891h-2zM200 825h2V891h-2zM204 835h2V891h-2zM220 852h2V891h-2zM232 872h2V891h-2zM239 874h2V891h-2zM243 856h2V891h-2zM247 848h2V891h-2zM259 885h2V891h-2zM263 869h2V891h-2zM267 855h2V891h-2zM271 870h2V891h-2zM275 856h2V891h-2zM282 832h2V891h-2zM286 877h2V891h-2zM294 820h2V891h-2zM298 863h2V891h-2zM302 868h2V891h-2zM314 856h2V891h-2zM341 883h2V891h-2zM412 887h2V891h-2zM415 884h2V891h-2zM431 889h2V891h-2zM462 874h2V891h-2zM474 887h2V891h-2zM482 887h2V891h-2zM486 888h2V891h-2zM509 870h2V891h-2zM513 878h2V891h-2zM533 882h2V891h-2zM560 888h2V891h-2zM564 884h2V891h-2zM580 889h2V891h-2zM615 863h2V891h-2zM623 870h2V891h-2zM642 874h2V891h-2zM654 882h2V891h-2zM658 883h2V891h-2zM662 885h2V891h-2zM670 883h2V891h-2zM686 885h2V891h-2zM701 839h2V891h-2zM733 888h2V891h-2zM744 872h2V891h-2zM756 884h2V891h-2zM787 869h2V891h-2zM799 865h2V891h-2zM823 888h2V891h-2zM830 885h2V891h-2zM858 873h2V891h-2zM889 886h2V891h-2zM893 885h2V891h-2zM897 878h2V891h-2zM901 861h2V891h-2zM909 850h2V891h-2zM920 859h2V891h-2zM924 876h2V891h-2zM928 856h2V891h-2zM932 826h2V891h-2zM948 872h2V891h-2zM952 877h2V891h-2zM963 877h2V891h-2zM967 759h2V891h-2zM971 809h2V891h-2zM979 835h2V891h-2zM987 843h2V891h-2zM995 844h2V891h-2zM1003 875h2V891h-2zM1006 786h2V891h-2zM1010 825h2V891h-2zM1014 813h2V891h-2zM1022 875h2V891h-2zM1030 843h2V891h-2zM1034 840h2V891h-2zM1038 831h2V891h-2zM1042 853h2V891h-2zM1057 878h2V891h-2zM1061 881h2V891h-2zM1069 862h2V891h-2zM1077 865h2V891h-2zM1089 880h2V891h-2zM1093 879h2V891h-2zM1097 868h2V891h-2zM1100 822h2V891h-2zM1104 821h2V891h-2zM1112 869h2V891h-2zM1120 849h2V891h-2zM1124 878h2V891h-2zM1132 819h2V891h-2zM1136 866h2V891h-2zM1140 831h2V891h-2zM1147 801h2V891h-2zM1171 874h2V891h-2zM1190 871h2V891h-2zM1206 851h2V891h-2zM1214 878h2V891h-2zM1222 857h2V891h-2zM1226 867h2V891h-2zM1230 879h2V891h-2zM1241 881h2V891h-2zM1245 881h2V891h-2zM1257 860h2V891h-2zM1265 860h2V891h-2zM1273 877h2V891h-2zM1288 866h2V891h-2zM1292 801h2V891h-2zM1300 814h2V891h-2zM1316 867h2V891h-2zM1320 843h2V891h-2zM1351 872h2V891h-2zM1370 884h2V891h-2zM1386 883h2V891h-2zM1398 867h2V891h-2zM1402 869h2V891h-2zM1417 872h2V891h-2zM1425 879h2V891h-2zM1433 884h2V891h-2zM1457 817h2V891h-2zM1461 813h2V891h-2zM1464 840h2V891h-2zM1492 867h2V891h-2zM1504 881h2V891h-2zM1507 708h2V891h-2zM1511 757h2V891h-2zM1515 849h2V891h-2z" fill="#009600"/>
<path d="M4.9 881.3 L18.8 881.3 L23.5 880.3 L44.6 879.4 L46.9 880.3 L84.5 880.3 L86.8 879.4 L93.8 879.4 L99.7 878.0 L105.6 877.4 L109.1 876.5 L117.3 876.5 L123.2 874.5 L132.6 874.2 L133.7 875.4 L137.2 876.2 L146.6 876.2 L147.8 874.5 L196.0 874.2 L199.6 871.3 L205.4 871.3 L209.0 872.5 L210.7 871.3 L240.6 871.3 L241.8 870.4 L248.8 870.4 L250.0 869.4 L262.9 869.4 L265.3 868.2 L272.3 868.2 L273.5 867.2 L288.7 866.2 L289.9 867.4 L292.2 866.2 L305.1 866.2 L306.3 867.2 L308.7 866.2 L317.0 866.2 L319.4 867.4 L347.5 867.4 L348.7 868.4 L364.0 868.4 L365.1 869.4 L393.3 869.4 L396.8 871.3 L399.1 872.1 L410.9 872.1 L414.4 874.2 L426.1 874.2 L427.3 875.3 L437.9 875.3 L442.6 877.2 L457.8 877.4 L459.0 878.2 L467.2 878.2 L470.0 879.7 L476.7 879.4 L477.9 880.3 L484.4 880.3 L485.5 881.3 L488.5 881.3 L489.6 882.3 L507.2 882.3 L508.4 883.3 L615.1 883.3 L616.3 882.3 L623.5 881.3 L651.7 881.3 L652.8 880.3 L660.5 880.3 L661.6 881.3 L671.6 881.3 L672.8 880.3 L684.5 880.3 L685.7 881.3 L698.6 881.3 L699.8 880.3 L707.4 880.3 L708.6 881.3 L757.8 881.3 L759.0 880.3 L766.6 880.3 L767.8 881.3 L770.2 881.3 L771.3 880.3 L780.0 880.3 L792.6 879.4 L793.8 878.2 L821.9 878.6 L823.1 879.4 L848.3 879.4 L849.5 880.3 L855.9 880.3 L857.1 879.4 L895.8 879.4 L897.6 880.3 L901.7 879.4 L922.8 878.0 L927.5 876.8 L935.0 876.2 L963.6 875.4 L966.0 871.5 L1003.5 867.6 L1005.0 866.8 L1016.0 863.7 L1027.0 862.6 L1030.1 861.0 L1039.5 859.0 L1048.9 856.3 L1056.7 855.1 L1073.9 855.1 L1075.4 854.0 L1085.0 854.3 L1097.5 854.0 L1100.6 852.3 L1110.0 852.7 L1112.4 853.5 L1114.7 852.3 L1124.1 852.7 L1128.0 853.5 L1130.4 852.3 L1138.2 852.0 L1147.6 848.5 L1157.0 848.1 L1159.3 847.3 L1164.8 850.7 L1172.6 851.5 L1178.8 852.7 L1183.5 853.8 L1186.7 852.7 L1199.2 853.5 L1207.0 855.9 L1213.2 858.2 L1225.8 858.2 L1233.6 860.6 L1240.0 861.3 L1244.7 862.9 L1286.9 861.3 L1291.6 859.5 L1315.1 860.1 L1317.4 861.3 L1321.3 860.1 L1326.8 861.3 L1329.9 860.1 L1337.0 861.0 L1341.7 862.9 L1369.8 863.2 L1374.5 864.5 L1380.8 865.3 L1395.0 865.3 L1415.3 866.4 L1441.9 865.3 L1448.2 866.4 L1454.4 866.4 L1457.6 864.5 L1473.2 863.4 L1488.8 864.5 L1496.7 866.8 L1504.5 866.8 L1510.7 862.9 L1518.6 861.3" stroke="#000" stroke-width="1" fill="none" stroke-linejoin="round"/>
<path d="M1171.5 829.5H1441.5V879.5H1171.5Z M1476.5 856.5H1500.5V871.5H1476.5Z" stroke="#ff0000" stroke-dasharray="3 3" fill="none"/>
<ellipse cx="1505.6" cy="776.3" rx="33" ry="70.3" stroke="#ff0000" stroke-dasharray="3 3" fill="none"/>
<path d="M1022.3 326.8L1527 361.5" stroke="#ff0000" stroke-width="1" fill="none" stroke-dasharray="3 3"/>
<path d="M1042 346.5A203.3 243.5 0 1 0 1448.6 346.5" stroke="#ff0000" stroke-width="1" fill="none" stroke-dasharray="3 3"/>
<path d="M1460.5 357A19.5 43 0 0 0 1499.5 357" stroke="#ff0000" stroke-width="1" fill="none" stroke-dasharray="3 3"/>
<path d="M1382.2 159.9L1492 336" stroke="#ff0000" stroke-width="1.2" fill="none" stroke-dasharray="3 3"/>
<path d="M1489 338.4L1497.4 333.1L1500.8 348Z" fill="#ff0000"/>
<rect x="1195" y="299" width="6" height="6" fill="#ff0000"/>
<rect x="1313" y="314" width="6" height="6" fill="#ff0000"/>
<rect x="1469" y="703" width="6" height="6" fill="#ff0000"/>
<rect x="1536" y="844" width="6" height="6" fill="#ff0000"/>
<text x="1179" y="107" fill="#ff0000" stroke="#ff0000" stroke-width="0.3" font-family="Liberation Sans, Arial, sans-serif" font-size="12">4 thang lai 82% so voi cung ky</text>
<text x="1179" y="120.5" fill="#ff0000" stroke="#ff0000" stroke-width="0.3" font-family="Liberation Sans, Arial, sans-serif" font-size="12">hoan thanh 40% hoach LN</text>
<text x="1198.5" y="313.7" fill="#ff0000" stroke="#ff0000" stroke-width="0.3" font-family="Liberation Sans, Arial, sans-serif" font-size="12">Cup and handle/ VCP</text>
<text x="1527.5" y="341.6" fill="#ff0000" stroke="#ff0000" stroke-width="0.3" font-family="Liberation Sans, Arial, sans-serif" font-size="12">Gap</text>
<rect x="1641" y="5" width="1" height="890" fill="#000"/>
<rect x="0" y="675" width="1641" height="1" fill="#000"/>
<rect x="0" y="692" width="1696" height="1" fill="#000"/>
<path d="M1642 673h4v1h-4zM1642 631h4v1h-4zM1642 591h4v1h-4zM1642 553h4v1h-4zM1642 517h4v1h-4zM1642 482h4v1h-4zM1642 448h4v1h-4zM1642 416h4v1h-4zM1642 385h4v1h-4zM1642 355h4v1h-4zM1642 326h4v1h-4zM1642 298h4v1h-4zM1642 271h4v1h-4zM1642 244h4v1h-4zM1642 219h4v1h-4zM1642 194h4v1h-4zM1642 170h4v1h-4zM1642 146h4v1h-4zM1642 124h4v1h-4zM1642 101h4v1h-4zM1642 80h4v1h-4zM1642 59h4v1h-4zM1642 38h4v1h-4zM1642 18h4v1h-4zM1642 709h4v1h-4zM1642 755h4v1h-4zM1642 800h4v1h-4zM1642 845h4v1h-4zM1642 891h4v1h-4zM8 676h1v5h-1zM87 676h1v5h-1zM177 676h1v5h-1zM255 676h1v5h-1zM310 676h1v5h-1zM396 676h1v5h-1zM470 676h1v5h-1zM549 676h1v5h-1zM635 676h1v5h-1zM725 676h1v5h-1zM807 676h1v5h-1zM889 676h1v5h-1zM975 676h1v5h-1zM1057 676h1v5h-1zM1147 676h1v5h-1zM1226 676h1v5h-1zM1288 676h1v5h-1zM1378 676h1v5h-1zM1457 676h1v5h-1z" fill="#000"/>
<g font-family="Liberation Sans, Arial, sans-serif" font-size="12" fill="#000" stroke="#000" stroke-width="0.3"><text x="1683.7" y="677" letter-spacing="0.33">20</text><text x="1683.7" y="635" letter-spacing="0.33">21</text><text x="1683.7" y="595" letter-spacing="0.33">22</text><text x="1683.7" y="557" letter-spacing="0.33">23</text><text x="1683.7" y="521" letter-spacing="0.33">24</text><text x="1683.7" y="486" letter-spacing="0.33">25</text><text x="1683.7" y="452" letter-spacing="0.33">26</text><text x="1683.7" y="420" letter-spacing="0.33">27</text><text x="1683.7" y="389" letter-spacing="0.33">28</text><text x="1683.7" y="359" letter-spacing="0.33">29</text><text x="1683.7" y="330" letter-spacing="0.33">30</text><text x="1683.7" y="302" letter-spacing="0.33">31</text><text x="1683.7" y="275" letter-spacing="0.33">32</text><text x="1683.7" y="248" letter-spacing="0.33">33</text><text x="1683.7" y="223" letter-spacing="0.33">34</text><text x="1683.7" y="198" letter-spacing="0.33">35</text><text x="1683.7" y="174" letter-spacing="0.33">36</text><text x="1683.7" y="150" letter-spacing="0.33">37</text><text x="1683.7" y="128" letter-spacing="0.33">38</text><text x="1683.7" y="105" letter-spacing="0.33">39</text><text x="1683.7" y="84" letter-spacing="0.33">40</text><text x="1683.7" y="63" letter-spacing="0.33">41</text><text x="1683.7" y="42" letter-spacing="0.33">42</text><text x="1683.7" y="22" letter-spacing="0.33">43</text><text x="1652.9" y="713" letter-spacing="0.33">800,000</text><text x="1652.9" y="759" letter-spacing="0.33">600,000</text><text x="1652.9" y="804" letter-spacing="0.33">400,000</text><text x="1652.9" y="849" letter-spacing="0.33">200,000</text><text x="1691.5" y="895" letter-spacing="0.33">0</text><text x="11.5" y="687">Nov</text><text x="90.5" y="687">Dec</text><text x="180.5" y="687" font-weight="bold">2015</text><text x="258.5" y="687">Feb</text><text x="313.5" y="687">Mar</text><text x="399.5" y="687">Apr</text><text x="473.5" y="687">May</text><text x="552.5" y="687">Jun</text><text x="638.5" y="687">Jul</text><text x="728.5" y="687">Aug</text><text x="810.5" y="687">Sep</text><text x="892.5" y="687">Oct</text><text x="978.5" y="687">Nov</text><text x="1060.5" y="687">Dec</text><text x="1150.5" y="687" font-weight="bold">2016</text><text x="1229.5" y="687">Feb</text><text x="1291.5" y="687">Mar</text><text x="1381.5" y="687">Apr</text><text x="1460.5" y="687">May</text></g>
<path d="M1642 319L1649 312H1696V342H1649V326Z" fill="#000"/>
<text x="1653.5" y="323.3" fill="#fff" stroke="#fff" stroke-width="0.3" font-family="Liberation Sans, Arial, sans-serif" font-size="12" letter-spacing="0.33">30.2517</text>
<text x="1653.5" y="338.5" fill="#fff" stroke="#fff" stroke-width="0.3" font-family="Liberation Sans, Arial, sans-serif" font-size="12" letter-spacing="0.33">29.8483</text>
<rect x="1649" y="362" width="47" height="15" fill="#ff0000"/>
<text x="1653.5" y="373.5" fill="#000" stroke="#000" stroke-width="0.3" font-family="Liberation Sans, Arial, sans-serif" font-size="12" letter-spacing="0.33">28.5316</text>
<rect x="1649" y="381" width="47" height="15" fill="#0000ff"/>
<text x="1653.5" y="392.7" fill="#fff" stroke="#fff" stroke-width="0.3" font-family="Liberation Sans, Arial, sans-serif" font-size="12" letter-spacing="0.33">27.9112</text>
<path d="M1642 827.3L1649 820H1696V835H1649Z" fill="#ff0000"/>
<text x="1653.5" y="831.8" fill="#000" stroke="#000" stroke-width="0.3" font-family="Liberation Sans, Arial, sans-serif" font-size="12" letter-spacing="0.33">279,620</text>
<rect x="1649" y="854" width="47" height="15" fill="#000"/>
<text x="1653.8" y="865.5" fill="#fff" stroke="#fff" stroke-width="0.3" font-family="Liberation Sans, Arial, sans-serif" font-size="12" letter-spacing="0.33">129,149</text>
<g font-family="Liberation Sans, Arial, sans-serif" font-size="12"><text x="3.52" y="17" fill="#000" stroke="#000" stroke-width="0.3" textLength="28.6" lengthAdjust="spacingAndGlyphs">MWG</text><text x="35.47" y="17" fill="#000" stroke="#000" stroke-width="0.3">- </text><text x="42.42" y="17" fill="#000" stroke="#000" stroke-width="0.3">Daily </text><text x="73.12" y="17" fill="#000" stroke="#000" stroke-width="0.3">5/23/2016 </text><text x="131.23" y="17" fill="#000" stroke="#000" stroke-width="0.3">Open </text><text x="164.20" y="17" fill="#000" stroke="#000" stroke-width="0.3">28.6016, </text><text x="214.22" y="17" fill="#000" stroke="#000" stroke-width="0.3">Hi </text><text x="229.70" y="17" fill="#000" stroke="#000" stroke-width="0.3">29.335, </text><text x="273.22" y="17" fill="#000" stroke="#000" stroke-width="0.3">Lo </text><text x="291.00" y="17" fill="#000" stroke="#000" stroke-width="0.3">28.4183, </text><text x="342.39" y="17" fill="#000" stroke="#000" stroke-width="0.3">Close </text><text x="377.80" y="17" fill="#000" stroke="#000" stroke-width="0.3">29.335 </text><text x="419.16" y="17" fill="#000" stroke="#000" stroke-width="0.3">(3.9%) </text><text x="458.12" y="17" fill="#0000ff" stroke="#0000ff" stroke-width="0.3">MA(Close,50)</text><text x="534.11" y="17" fill="#000" stroke="#000" stroke-width="0.3">=</text><text x="544.80" y="17" fill="#000" stroke="#000" stroke-width="0.3">27.79, </text><text x="582.12" y="17" fill="#ff0000" stroke="#ff0000" stroke-width="0.3">MA1(Close,20)</text><text x="665.71" y="17" fill="#000" stroke="#000" stroke-width="0.3">=</text><text x="676.40" y="17" fill="#000" stroke="#000" stroke-width="0.3">28.04, </text><text x="712.82" y="17" fill="#000" stroke="#000" stroke-width="0.3">MA2(Close,5) </text><text x="791.01" y="17" fill="#000" stroke="#000" stroke-width="0.3">=</text><text x="800.00" y="17" fill="#000" stroke="#000" stroke-width="0.3">28.42</text></g>
<g font-family="Liberation Sans, Arial, sans-serif" font-size="12"><text x="3.52" y="706" fill="#000" stroke="#000" stroke-width="0.3" textLength="28.6" lengthAdjust="spacingAndGlyphs">MWG</text><text x="35.57" y="706" fill="#000" stroke="#000" stroke-width="0.3">- </text><text x="43.05" y="706" fill="#ff0000" stroke="#ff0000" stroke-width="0.3">Volume</text><text x="87.61" y="706" fill="#000" stroke="#000" stroke-width="0.3">= </text><text x="98.18" y="706" fill="#000" stroke="#000" stroke-width="0.3">803,880.00, </text><text x="165.72" y="706" fill="#000" stroke="#000" stroke-width="0.3">MA(Volume,50) </text><text x="252.11" y="706" fill="#000" stroke="#000" stroke-width="0.3">= </text><text x="262.79" y="706" fill="#000" stroke="#000" stroke-width="0.3">116,210.40</text></g></svg>
</body></html>
